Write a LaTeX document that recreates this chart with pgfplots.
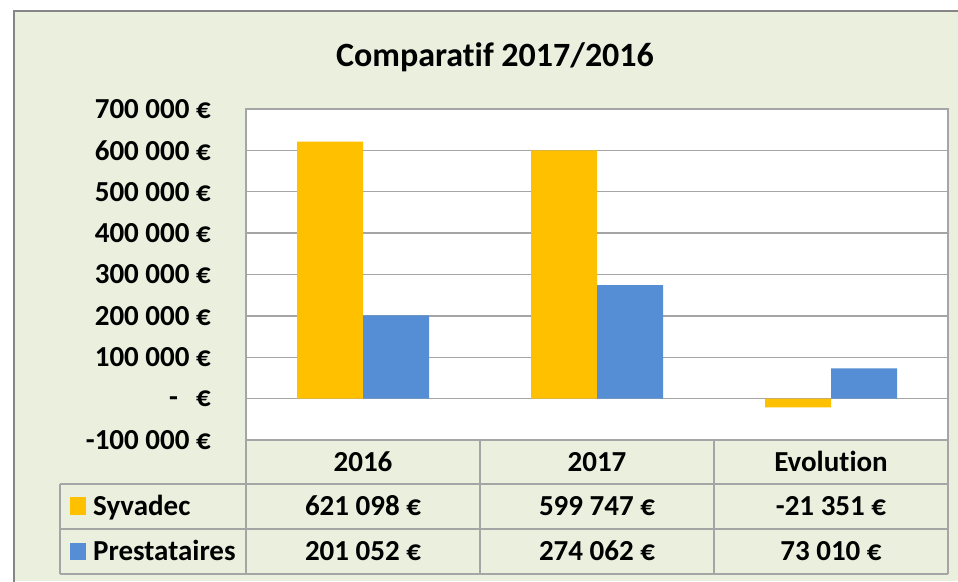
\documentclass[border=0pt]{standalone}
\usepackage{fontspec}
\setmainfont{Carlito}[Ligatures=CommonOff]
\usepackage{pgfplots}
\pgfplotsset{compat=1.18}
\definecolor{bg}{RGB}{235,239,222}
\definecolor{framec}{RGB}{134,134,134}
\definecolor{gridc}{RGB}{165,165,165}
\definecolor{syv}{RGB}{255,192,0}
\definecolor{pre}{RGB}{85,142,213}
\newcommand{\tf}{\fontsize{29}{34}\selectfont\bfseries}
\begin{document}
\begin{tikzpicture}[x=1pt,y=1pt]
\useasboundingbox (0,0) rectangle (958,581);
\fill[white] (0,0) rectangle (958,581);
\fill[bg] (14,0) rectangle (958,570);
\draw[framec, line width=2pt] (14,-5) -- (14,570) -- (965,570);
\node[font=\fontsize{34}{40}\selectfont\bfseries, anchor=base] at (495,514) {Comparatif 2017/2016};
\begin{axis}[at={(246pt,141pt)}, anchor=south west, scale only axis,
  width=702pt, height=331pt,
  xmin=-0.5, xmax=2.5, ymin=-100000, ymax=700000,
  ybar=0pt, bar width=66pt,
  axis background/.style={fill=white},
  axis line style={gridc, line width=1.3pt},
  ymajorgrids, major grid style={gridc, line width=1.3pt},
  scaled y ticks=false,
  ytick={-100000,0,100000,200000,300000,400000,500000,600000,700000},
  yticklabels={-100 000 €, -\hspace{18pt}€, 100 000 €, 200 000 €, 300 000 €, 400 000 €, 500 000 €, 600 000 €, 700 000 €},
  xtick=\empty, major tick length=0pt,
  yticklabel style={font=\tf, anchor=east, inner sep=0pt, xshift=-35pt},
  clip=false,
]
\addplot[fill=syv, draw=none] coordinates {(0,621098) (1,599747) (2,-21351)};
\addplot[fill=pre, draw=none] coordinates {(0,201052) (1,274062) (2,73010)};
\end{axis}
% data table
\draw[gridc, line width=1.3pt] (246,141) -- (246,7);
\draw[gridc, line width=1.3pt] (480,141) -- (480,7);
\draw[gridc, line width=1.3pt] (714,141) -- (714,7);
\draw[gridc, line width=1.3pt] (948,141) -- (948,7);
\draw[gridc, line width=1.3pt] (60,97) -- (948,97);
\draw[gridc, line width=1.3pt] (60,52) -- (948,52);
\draw[gridc, line width=1.3pt] (60,7) -- (948,7);
\draw[gridc, line width=1.3pt] (60,97) -- (60,7);
\fill[syv] (70,66) rectangle (86,84);
\fill[pre] (70,21) rectangle (86,38);
\node[font=\tf, anchor=base west, inner sep=0pt] at (93,66) {Syvadec};
\node[font=\tf, anchor=base west, inner sep=0pt] at (93,21) {Prestataires};
\node[font=\tf, anchor=base] at (363,109) {2016};
\node[font=\tf, anchor=base] at (597,109) {2017};
\node[font=\tf, anchor=base] at (831,109) {Evolution};
\node[font=\tf, anchor=base] at (363,66) {621 098 €};
\node[font=\tf, anchor=base] at (597,66) {599 747 €};
\node[font=\tf, anchor=base] at (831,66) {-21 351 €};
\node[font=\tf, anchor=base] at (363,21) {201 052 €};
\node[font=\tf, anchor=base] at (597,21) {274 062 €};
\node[font=\tf, anchor=base] at (831,21) {73 010 €};
\end{tikzpicture}
\end{document}
